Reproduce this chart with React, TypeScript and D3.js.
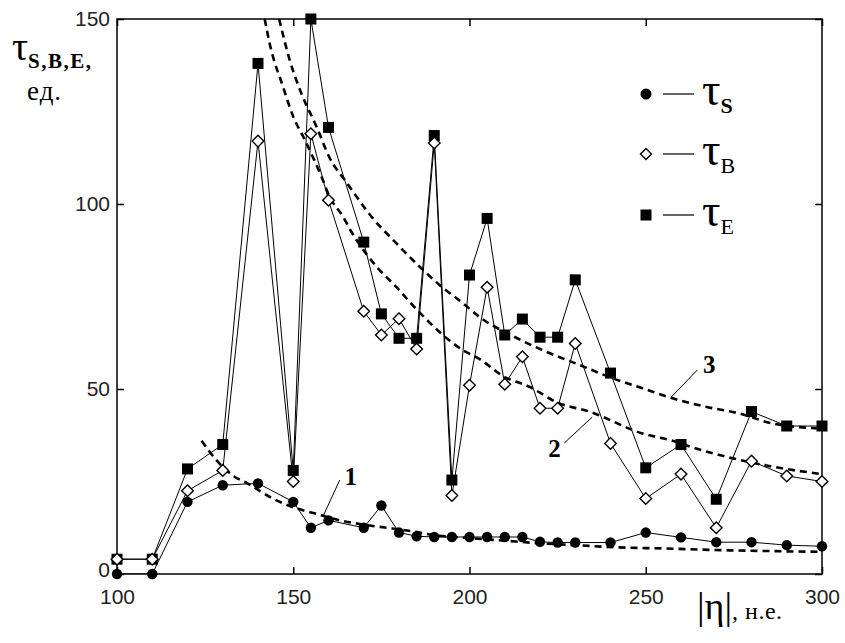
import { useEffect, useRef } from "react";
import * as d3 from "d3";

// |eta| values (x) and the three measured series
const eta = [100, 110, 120, 130, 140, 150, 155, 160, 170, 175, 180, 185, 190, 195, 200, 205, 210, 215, 220, 225, 230, 240, 250, 260, 270, 280, 290, 300];
const tauS = [0, 0, 19.5, 24, 24.5, 19.5, 12.5, 14.5, 12.5, 18.5, 11.2, 10.2, 10, 10, 10, 10, 10, 10, 8.7, 8.5, 8.5, 8.5, 11.2, 9.9, 8.6, 8.6, 7.8, 7.5];
const tauB = [4, 4, 22.5, 28, 117, 25, 119, 101, 71, 64.6, 69, 60.8, 116.5, 21.2, 51, 77.5, 51.3, 58.7, 44.8, 44.8, 62.3, 35.3, 20.4, 27, 12.5, 30.5, 26.5, 25];
const tauE = [4, 4, 28.4, 35, 138, 28, 150, 120.7, 89.7, 70.3, 63.7, 63.7, 118.5, 25.4, 80.8, 96.1, 64.6, 68.9, 64, 64, 79.5, 54.3, 28.7, 35, 20.2, 43.9, 40, 40];

// dashed fit curves 1..3
const fit1: [number, number][] = [[124, 36], [128, 31], [133, 26.5], [137, 24.5], [144, 20.5], [150, 18], [156, 16.4], [161, 15], [171, 13.2], [178, 12.3], [184, 11.5], [190, 10.5], [200, 9.7], [210, 9], [220, 8.3], [230, 7.8], [242, 7.2], [255, 6.9], [269, 6.5], [285, 6.2], [300, 6]];
const fit2: [number, number][] = [[141.9, 150], [143.3, 143.4], [147.1, 131.7], [150, 123.6], [153.3, 117.3], [158, 107.4], [160.3, 102], [164.1, 96.6], [166.5, 92.5], [173.6, 83.1], [179.2, 77.6], [185.5, 71], [198.1, 60.5], [203, 58], [209.5, 53.5], [217, 50.6], [225, 46.3], [234, 43.9], [249, 38], [257.6, 36], [262.3, 34.5], [274.6, 31.3], [286, 29], [300, 27]];
const fit3: [number, number][] = [[146, 150], [149, 138.9], [152.3, 129.9], [156.6, 120.9], [160.3, 112.5], [165, 106], [172.6, 96.1], [178.3, 90.3], [185.8, 83.1], [191.5, 78.1], [198.1, 73.2], [202.8, 69.5], [212.3, 64.3], [221.7, 60.1], [231.2, 56.5], [240.6, 52.9], [249.1, 50.2], [257.6, 47.5], [267, 45.2], [276.5, 43.4], [285.9, 40.7], [300, 39.3]];

// curve labels: text, label position, leader line start/end (data units)
const curveLabels = [
  { text: "1", at: [166.3, 24], from: [163.2, 25.4], to: [158.6, 15.9] },
  { text: "2", at: [224.1, 31.6], from: [226.9, 35.4], to: [234.8, 42.4] },
  { text: "3", at: [268, 54.3], from: [264.6, 55.1], to: [257.2, 47.8] },
];

const xTicks = [100, 150, 200, 250, 300];
const yTicks = [0, 50, 100, 150];
const legendSubs = ["S", "B", "E"];

export default function App() {
  const ref = useRef<SVGSVGElement>(null);

  useEffect(() => {
    const svg = d3.select(ref.current);
    svg.selectAll("*").remove();
    const width = 845, height = 643;
    const margin = { left: 117, top: 19, right: 23, bottom: 69 };

    const x = d3.scaleLinear().domain([100, 300]).range([margin.left, width - margin.right]);
    const y = d3.scaleLinear().domain([0, 150]).range([height - margin.bottom, margin.top]);

    svg.append("defs").append("clipPath").attr("id", "plot-clip")
      .append("rect")
      .attr("x", margin.left).attr("y", margin.top)
      .attr("width", width - margin.left - margin.right)
      .attr("height", height - margin.top - margin.bottom);

    // axes with inward ticks on all four sides
    const tick = 7;
    const styleAxis = (g) => {
      g.select(".domain").remove();
      g.selectAll("line").attr("stroke", "#000").attr("stroke-width", 1.5);
      g.selectAll("text").attr("font-family", "'Liberation Sans', Arial, sans-serif").attr("font-size", 21).attr("fill", "#222");
    };
    svg.append("g").attr("transform", `translate(0,${y(0)})`)
      .call(d3.axisBottom(x).tickValues(xTicks).tickSizeInner(-tick).tickSizeOuter(0).tickPadding(15))
      .call(styleAxis);
    svg.append("g").attr("transform", `translate(0,${y(150)})`)
      .call(d3.axisTop(x).tickValues(xTicks).tickSizeInner(-tick).tickSizeOuter(0).tickFormat(() => ""))
      .call(styleAxis);
    const yAxis = svg.append("g").attr("transform", `translate(${x(100)},0)`)
      .call(d3.axisLeft(y).tickValues(yTicks).tickSizeInner(-tick).tickSizeOuter(0).tickPadding(7))
      .call(styleAxis);
    // the "0" label sits a little higher so it clears the x-axis "100"
    yAxis.selectAll("text").filter(d => d === 0).attr("dy", "0.1em");
    svg.append("g").attr("transform", `translate(${x(300)},0)`)
      .call(d3.axisRight(y).tickValues(yTicks).tickSizeInner(-tick).tickSizeOuter(0).tickFormat(() => ""))
      .call(styleAxis);

    svg.append("rect")
      .attr("x", x(100)).attr("y", y(150))
      .attr("width", x(300) - x(100)).attr("height", y(0) - y(150))
      .attr("fill", "none").attr("stroke", "#000").attr("stroke-width", 1.5);

    const plot = svg.append("g").attr("clip-path", "url(#plot-clip)");

    // dashed fits
    const fitLine = d3.line().x(d => x(d[0])).y(d => y(d[1])).curve(d3.curveMonotoneX);
    [fit1, fit2, fit3].forEach(f => {
      plot.append("path").attr("d", fitLine(f))
        .attr("fill", "none").attr("stroke", "#000").attr("stroke-width", 2.6)
        .attr("stroke-dasharray", "7,5");
    });

    // series lines
    const seriesLine = d3.line().x((d, i) => x(eta[i])).y(d => y(d));
    [tauE, tauB, tauS].forEach(s => {
      plot.append("path").attr("d", seriesLine(s))
        .attr("fill", "none").attr("stroke", "#000").attr("stroke-width", 1);
    });

    const sq = 11, dia = 5.8, rad = 5.2;
    const drawSquare = (g, cx, cy, s) => g.append("rect")
      .attr("x", cx - s / 2).attr("y", cy - s / 2).attr("width", s).attr("height", s).attr("fill", "#000");
    const drawDiamond = (g, cx, cy, r) => g.append("path")
      .attr("d", `M${cx},${cy - r}L${cx + r},${cy}L${cx},${cy + r}L${cx - r},${cy}Z`)
      .attr("fill", "#fff").attr("stroke", "#000").attr("stroke-width", 1.4);
    const drawCircle = (g, cx, cy, r) => g.append("circle")
      .attr("cx", cx).attr("cy", cy).attr("r", r).attr("fill", "#000");

    const marks = svg.append("g");
    tauE.forEach((v, i) => drawSquare(marks, x(eta[i]), y(v), sq));
    tauB.forEach((v, i) => drawDiamond(marks, x(eta[i]), y(v), dia));
    tauS.forEach((v, i) => drawCircle(marks, x(eta[i]), y(v), rad));

    const serif = "'Liberation Serif', 'Times New Roman', serif";

    // curve labels + leader lines
    curveLabels.forEach(c => {
      svg.append("line")
        .attr("x1", x(c.from[0])).attr("y1", y(c.from[1]))
        .attr("x2", x(c.to[0])).attr("y2", y(c.to[1]))
        .attr("stroke", "#000").attr("stroke-width", 1);
      svg.append("text").attr("x", x(c.at[0])).attr("y", y(c.at[1]))
        .attr("text-anchor", "middle")
        .attr("font-family", serif)
        .attr("font-size", 25).attr("font-weight", "bold")
        .text(c.text);
    });

    // legend
    const legend = svg.append("g");
    const rowY = [94, 154, 215];
    legendSubs.forEach((sub, i) => {
      const cy = rowY[i];
      if (i === 0) drawCircle(legend, 646, cy, 5.5);
      if (i === 1) drawDiamond(legend, 646, cy, 5.5);
      if (i === 2) drawSquare(legend, 646, cy, 11);
      legend.append("line").attr("x1", 663).attr("x2", 694).attr("y1", cy).attr("y2", cy)
        .attr("stroke", "#000").attr("stroke-width", 1.2);
      const t = legend.append("text").attr("x", 702).attr("y", cy + 11)
        .attr("font-family", serif).attr("font-size", 46);
      t.append("tspan").text("τ");
      t.append("tspan").attr("dy", 8).attr("font-size", 22)
        .attr("font-weight", i === 0 ? "bold" : "normal").text(sub);
    });

    // y-axis title
    const yt = svg.append("text").attr("x", 12).attr("y", 60).attr("font-family", serif).attr("font-size", 40);
    yt.append("tspan").text("τ");
    yt.append("tspan").attr("dy", 8).attr("font-size", 21).attr("font-weight", "bold")
      .attr("letter-spacing", 1.5).text("S,B,E,");
    svg.append("text").attr("x", 27).attr("y", 100).attr("font-family", serif)
      .attr("font-size", 27).attr("letter-spacing", 1).text("ед.");

    // x-axis title
    const xt = svg.append("text").attr("x", 697).attr("y", 619).attr("font-family", serif).attr("font-size", 38);
    xt.append("tspan").text("|η|");
    xt.append("tspan").attr("font-size", 24).attr("letter-spacing", 0.5).text(", н.е.");
  }, []);

  return <svg ref={ref} width={845} height={643} style={{ position: "absolute", left: 0, top: 0, background: "#fff" }} />;
}
